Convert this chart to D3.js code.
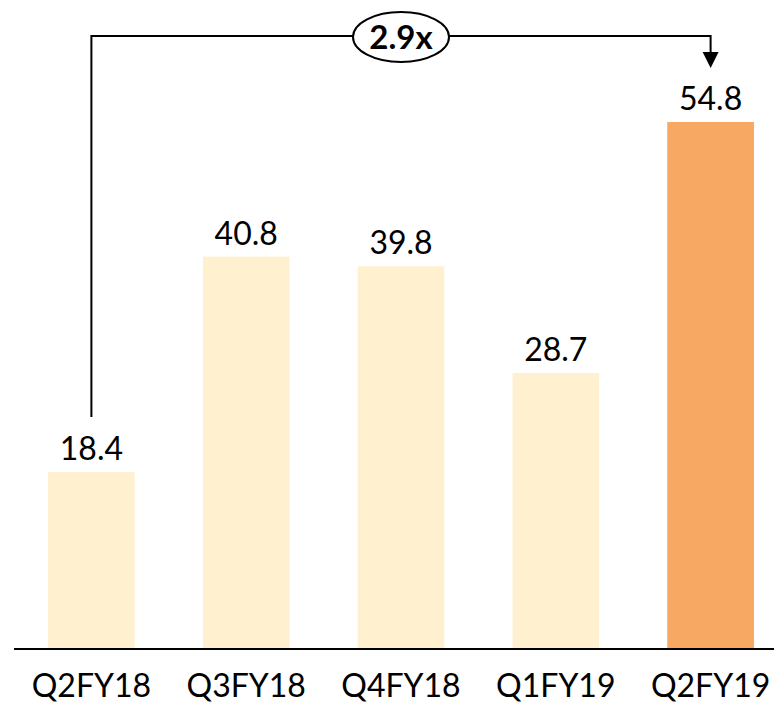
<!DOCTYPE html>
<html>
<head>
<meta charset="utf-8">
<script src="https://cdn.jsdelivr.net/npm/d3@7"></script>
<style>
  body { margin: 0; background: #fff; }
  text { font-family: Lato, "Open Sans", sans-serif; }
</style>
</head>
<body>
<div id="chart"></div>
<script>
var quarters = ["Q2FY18", "Q3FY18", "Q4FY18", "Q1FY19", "Q2FY19"];
var values = [18.4, 40.8, 39.8, 28.7, 54.8];
var barColors = ["#fff0cf", "#fff0cf", "#fff0cf", "#fff0cf", "#f7a963"];
var growthLabel = "2.9x";

var width = 774, height = 704;
var baseY = 649;

var svg = d3.select("#chart").append("svg")
    .attr("width", width)
    .attr("height", height);

// x positions of the bands
var x = d3.scaleBand()
    .domain(quarters)
    .range([14, 788])
    .paddingInner(0.44)
    .paddingOuter(0.22);

var y = d3.scaleLinear()
    .domain([0, 54.8])
    .range([baseY, 122]);

svg.selectAll("rect.bar")
    .data(values)
    .enter()
    .append("rect")
    .attr("class", "bar")
    .attr("x", function(d, i) { return x(quarters[i]); })
    .attr("y", function(d) { return y(d); })
    .attr("width", x.bandwidth())
    .attr("height", function(d) { return baseY - y(d); })
    .style("fill", function(d, i) { return barColors[i]; });

// value labels
svg.selectAll("text.val")
    .data(values)
    .enter()
    .append("text")
    .attr("class", "val")
    .attr("x", function(d, i) { return x(quarters[i]) + x.bandwidth() / 2; })
    .attr("y", function(d) { return y(d) - 12; })
    .attr("text-anchor", "middle")
    .style("font-size", "32px")
    .style("fill", "#000")
    .text(function(d) { return d.toFixed(1); });

// baseline axis
var axis = svg.append("g")
    .attr("transform", "translate(0," + baseY + ")")
    .call(d3.axisBottom(x).tickSize(0).tickPadding(19));
axis.select(".domain").remove();
axis.append("line")
    .attr("x1", 14).attr("x2", width)
    .attr("y1", 0).attr("y2", 0)
    .attr("stroke", "#000")
    .attr("stroke-width", 2);
axis.selectAll(".tick text")
    .style("font-family", "Lato, 'Open Sans', sans-serif")
    .style("font-size", "32px")
    .style("fill", "#000")
    .attr("dy", "0.9em");

// growth connector from first to last bar
var first = quarters[0], last = quarters[quarters.length - 1];
var x0 = x(first) + x.bandwidth() / 2;
var x1 = x(last) + x.bandwidth() / 2;
var lineY = 36;
var y0 = y(values[0]) - 55;
var tipY = 68;

svg.append("path")
    .attr("d", "M" + x0 + "," + y0 + " V" + lineY + " H" + x1 + " V" + (tipY - 15))
    .attr("fill", "none")
    .attr("stroke", "#000")
    .attr("stroke-width", 2);

svg.append("path")
    .attr("d", "M" + (x1 - 8) + "," + (tipY - 16) + " L" + (x1 + 8) + "," + (tipY - 16) + " L" + x1 + "," + tipY + " Z")
    .attr("fill", "#000");

var midX = 401;
svg.append("ellipse")
    .attr("cx", midX).attr("cy", 37)
    .attr("rx", 48).attr("ry", 25)
    .attr("fill", "#fff")
    .attr("stroke", "#000")
    .attr("stroke-width", 2);

svg.append("text")
    .attr("x", midX).attr("y", 49)
    .attr("text-anchor", "middle")
    .style("font-size", "33px")
    .style("font-weight", "bold")
    .style("fill", "#000")
    .text(growthLabel);
</script>
</body>
</html>
